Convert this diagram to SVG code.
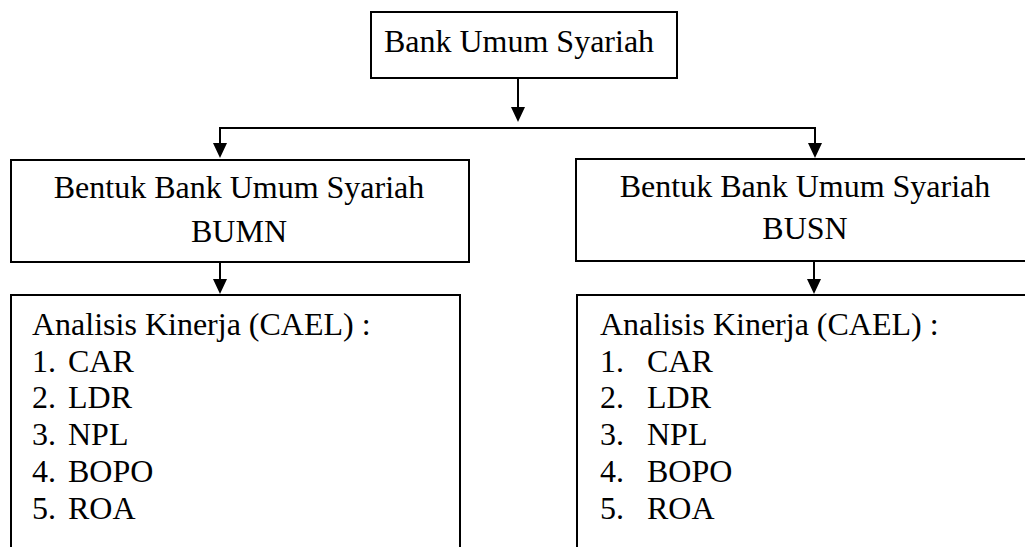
<svg xmlns="http://www.w3.org/2000/svg" width="1025" height="547" viewBox="0 0 1025 547">
<defs>
<style>
.box{fill:#fff;stroke:#000;stroke-width:2}
.t{font-family:"Liberation Serif","Times New Roman",serif;font-size:32px;fill:#000}
.c{text-anchor:middle}
.ln{fill:none;stroke:#000;stroke-width:2}
</style>
</defs>
<rect width="1025" height="547" fill="#fff"/>
<g id="connectors">
<line class="ln" x1="518" y1="79" x2="518" y2="110"/>
<path d="M511,107 L525,107 L518,122 Z" fill="#000"/>
<polyline class="ln" points="220,145 220,128 815,128 815,145"/>
<path d="M213,143 L227,143 L220,158 Z" fill="#000"/>
<path d="M808,143 L822,143 L815,158 Z" fill="#000"/>
<line class="ln" x1="220" y1="262" x2="220" y2="281"/>
<path d="M213,279 L227,279 L220,294 Z" fill="#000"/>
<line class="ln" x1="814" y1="261" x2="814" y2="281"/>
<path d="M807,279 L821,279 L814,294 Z" fill="#000"/>
</g>
<g id="node-bus">
<rect class="box" x="371" y="12" width="306" height="66"/>
<text class="t c" font-family="Liberation Serif" x="519" y="52">Bank Umum Syariah</text>
</g>
<g id="node-bumn">
<rect class="box" x="11" y="160" width="458" height="102"/>
<text class="t c" font-family="Liberation Serif" x="239" y="198">Bentuk Bank Umum Syariah</text>
<text class="t c" font-family="Liberation Serif" x="239" y="242">BUMN</text>
</g>
<g id="node-busn">
<rect class="box" x="576" y="159" width="460" height="102"/>
<text class="t c" font-family="Liberation Serif" x="805" y="197">Bentuk Bank Umum Syariah</text>
<text class="t c" font-family="Liberation Serif" x="805" y="239">BUSN</text>
</g>
<g id="node-cael-bumn" font-family="Liberation Serif">
<rect class="box" x="11" y="295" width="449" height="270"/>
<text class="t" x="32" y="335">Analisis Kinerja (CAEL) :</text>
<text class="t" x="32" y="372">1.</text><text class="t" x="68" y="372">CAR</text>
<text class="t" x="32" y="408">2.</text><text class="t" x="68" y="408">LDR</text>
<text class="t" x="32" y="445">3.</text><text class="t" x="68" y="445">NPL</text>
<text class="t" x="32" y="482">4.</text><text class="t" x="68" y="482">BOPO</text>
<text class="t" x="32" y="519">5.</text><text class="t" x="68" y="519">ROA</text>
</g>
<g id="node-cael-busn" font-family="Liberation Serif">
<rect class="box" x="577" y="295" width="460" height="270"/>
<text class="t" x="600" y="335">Analisis Kinerja (CAEL) :</text>
<text class="t" x="600" y="372">1.</text><text class="t" x="647" y="372">CAR</text>
<text class="t" x="600" y="408">2.</text><text class="t" x="647" y="408">LDR</text>
<text class="t" x="600" y="445">3.</text><text class="t" x="647" y="445">NPL</text>
<text class="t" x="600" y="482">4.</text><text class="t" x="647" y="482">BOPO</text>
<text class="t" x="600" y="519">5.</text><text class="t" x="647" y="519">ROA</text>
</g>
</svg>
